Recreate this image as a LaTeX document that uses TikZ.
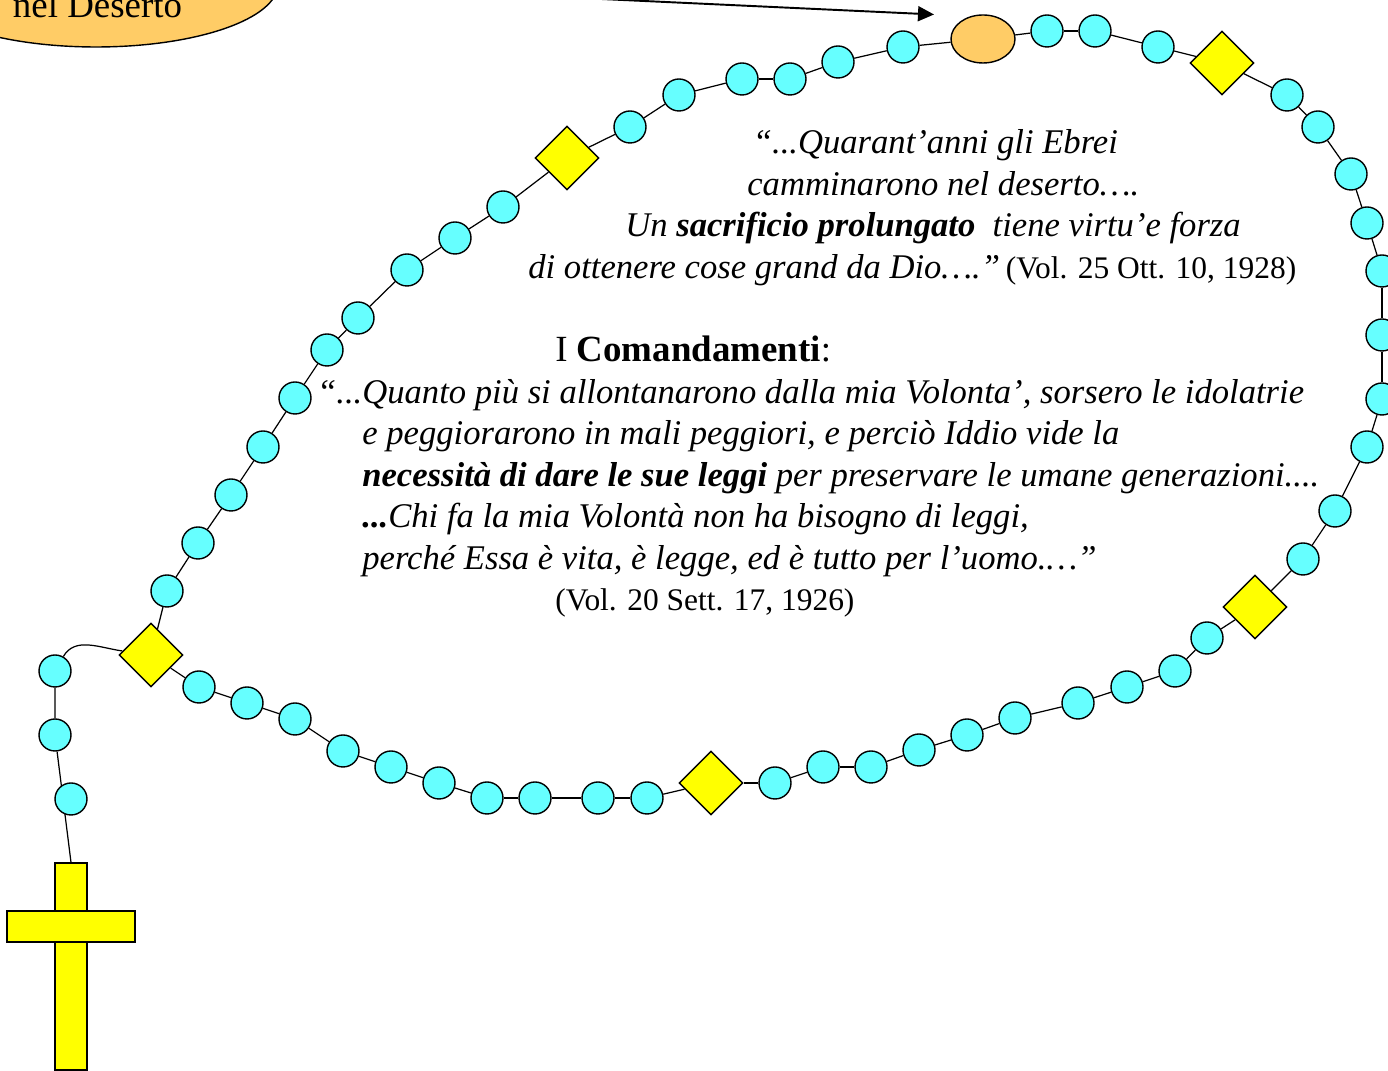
\documentclass[tikz,border=0pt]{standalone}
\usepackage{fontspec}
\setmainfont{Liberation Serif}
\usepackage{xcolor}
\usepackage{tikz}
\usetikzlibrary{arrows.meta,positioning,shapes.geometric}

\definecolor{beadcyan}{HTML}{66FFFF}
\definecolor{paterYellow}{HTML}{FFFF00}
\definecolor{desertOrange}{HTML}{FFCC66}

\tikzset{
  ave/.style={circle, draw, line width=0.8pt, fill=beadcyan, minimum size=0.64cm, inner sep=0pt},
  pater/.style={diamond, aspect=1, draw, line width=0.8pt, fill=paterYellow, minimum size=1.28cm, inner sep=0pt},
  station/.style={ellipse, draw, line width=0.8pt, fill=desertOrange, minimum width=1.28cm, minimum height=0.96cm, inner sep=0pt},
  crossbar/.style={rectangle, draw, line width=0.8pt, fill=paterYellow, inner sep=0pt},
  cord/.style={line width=0.7pt},
  pointer/.style={line width=1.1pt, -{Triangle[length=0.32cm, width=0.3cm]}},
  quote/.style={anchor=base west, inner sep=0pt, font=\fontsize{19.7}{23}\selectfont\itshape},
  cite/.style={anchor=base west, inner sep=0pt, font=\fontsize{17.9}{22}\selectfont}
}

\begin{document}
\begin{tikzpicture}[x=1cm, y=1cm]
\useasboundingbox (0,0) rectangle (27.76,21.42);
\clip (0,0) rectangle (27.76,21.42);
% Bubble in the corner
\node[ellipse, draw, line width=0.8pt, fill=desertOrange, minimum width=7.28cm, minimum height=2.52cm, inner sep=0pt]
  (desert) at (1.92,21.74) {};
\node[anchor=base, font=\fontsize{21}{25}\selectfont] (desertlabel) at (1.95,21.06) {nel Deserto};
\coordinate (tip) at (18.68,21.13);
\draw[pointer] (desert.east) -- (tip);
% Beads of the loop
\foreach \x/\y/\k [count=\i] in {
  3.02/8.32/pater, 3.34/9.60/ave, 3.96/10.56/ave, 4.62/11.52/ave, 5.26/12.48/ave,
  5.90/13.46/ave, 6.54/14.42/ave, 7.16/15.06/ave, 8.14/16.02/ave, 9.10/16.66/ave,
  10.06/17.28/ave, 11.34/18.26/pater, 12.60/18.88/ave, 13.58/19.52/ave, 14.84/19.84/ave,
  15.80/19.84/ave, 16.76/20.18/ave, 18.06/20.48/ave, 19.66/20.64/station, 20.94/20.80/ave,
  21.90/20.80/ave, 23.16/20.48/ave, 24.44/20.16/pater, 25.74/19.52/ave, 26.36/18.88/ave,
  27.02/17.94/ave, 27.34/16.96/ave, 27.64/16.00/ave, 27.64/14.72/ave, 27.64/13.44/ave,
  27.34/12.48/ave, 26.70/11.20/ave, 26.06/10.24/ave, 25.10/9.28/pater, 24.14/8.66/ave,
  23.50/8.00/ave, 22.54/7.68/ave, 21.56/7.36/ave, 20.30/7.06/ave, 19.34/6.72/ave,
  18.38/6.42/ave, 17.42/6.08/ave, 16.46/6.08/ave, 15.50/5.76/ave, 14.22/5.76/pater,
  12.94/5.46/ave, 11.96/5.46/ave, 10.70/5.46/ave, 9.74/5.46/ave, 8.78/5.76/ave,
  7.82/6.08/ave, 6.86/6.40/ave, 5.90/7.04/ave, 4.94/7.36/ave, 3.98/7.68/ave}
  \node[\k] (b\i) at (\x,\y) {};
% Tail and cross
\node[ave] (t1) at (1.10,8.00) {};
\node[ave] (t2) at (1.10,6.72) {};
\node[crossbar, minimum width=0.64cm, minimum height=4.14cm] (crossv) at (1.42,2.09) {};
\node[crossbar, minimum width=2.56cm, minimum height=0.62cm] (crossh) at (1.42,2.89) {};
\foreach \i [remember=\i as \j (initially 1)] in {2,...,55}
  \draw[cord] (b\j) -- (b\i);
\draw[cord] (b55) -- (b1);
\draw[cord] (b1) to[out=172, in=60] (t1) -- (t2) -- (crossv.north);
\node[ave] (t3) at (1.42,5.44) {};
% Quotation, top
\node[quote] (q1) at (15.05,18.34) {“...Quarant’anni gli Ebrei};
\node[quote] (q2) at (14.94,17.51) {camminarono nel deserto….};
\node[quote] (q3) at (12.50,16.68) {Un \textbf{sacrificio prolungato}\ \ tiene virtu’e forza};
\node[quote] (q4) at (10.56,15.85) {di ottenere cose grand da Dio….”\,{\upshape\fontsize{17.9}{22}\selectfont(Vol. 25 Ott. 10, 1928)}};
% Quotation, middle
\node[cite, font=\fontsize{21}{25}\selectfont] (title) at (11.10,14.18) {I \textbf{Comandamenti}:};
\node[quote] (c1) at (7.24,13.35) {\llap{“...}Quanto più si allontanarono dalla mia Volonta’, sorsero le idolatrie};
\node[quote] (c2) at (7.24,12.52) {e peggiorarono in mali peggiori, e perciò Iddio vide la};
\node[quote] (c3) at (7.24,11.68) {\textbf{necessità di dare le sue leggi} per preservare le umane generazioni....};
\node[quote] (c4) at (7.24,10.86) {\textbf{...}Chi fa la mia Volontà non ha bisogno di leggi,};
\node[quote] (c5) at (7.24,10.02) {perché Essa è vita, è legge, ed è tutto per l’uomo.…”};
\node[cite] (c6) at (11.10,9.20) {(Vol. 20 Sett. 17, 1926)};
\end{tikzpicture}
\end{document}
